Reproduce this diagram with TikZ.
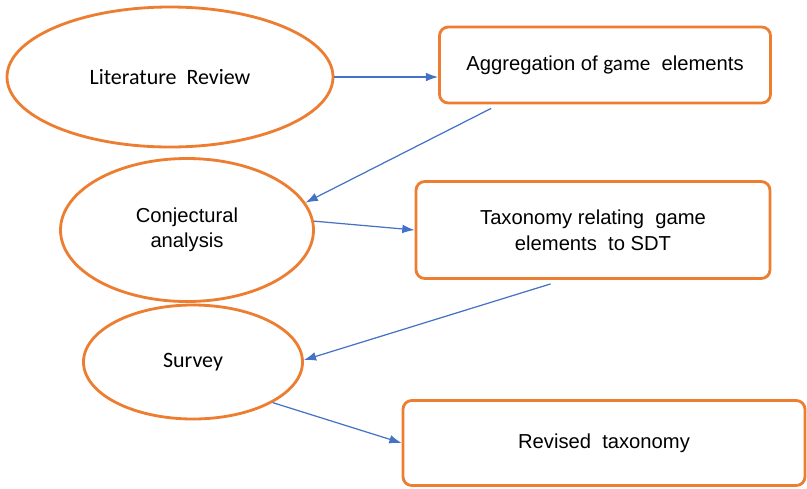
\documentclass[tikz,border=0pt]{standalone}
\usepackage{fontspec}
\setmainfont{Liberation Sans}
\newfontfamily\calibrifont{Carlito}
\usepackage{tikz}
\usetikzlibrary{shapes.geometric, arrows.meta, positioning, calc}
\definecolor{stageorange}{RGB}{237, 125, 49}
\definecolor{flowblue}{RGB}{68, 114, 196}

\begin{document}
\begin{tikzpicture}[
    x=0.02cm, y=-0.02cm,
    stage/.style={ellipse, draw=stageorange, line width=1.6pt, fill=white, align=center, font=\fontsize{11.5}{14.5}\selectfont},
    result/.style={rectangle, rounded corners=5pt, draw=stageorange, line width=1.6pt, fill=white, align=center, font=\fontsize{11.5}{15}\selectfont},
    edge/.style={draw=flowblue, line width=0.7pt, -{Latex[length=7pt, width=5pt]}}
]
\useasboundingbox (0,0) rectangle (807,488);
\node[stage, minimum width=326*0.02cm, minimum height=140*0.02cm] (lit) at (170,77) {\calibrifont\fontsize{12.5}{15}\selectfont Literature\ \ Review};
\node[stage, minimum width=253*0.02cm, minimum height=143*0.02cm] (conj) at (187,230) {Conjectural\\analysis};
\node[stage, minimum width=219*0.02cm, minimum height=114*0.02cm] (survey) at (193,362) {\calibrifont\fontsize{12.5}{15}\selectfont Survey};
\node[result, minimum width=331*0.02cm, minimum height=76*0.02cm] (agg) at (605,65) {Aggregation\ of {\calibrifont\fontsize{12}{15}\selectfont game}\ \ elements};
\node[result, minimum width=354*0.02cm, minimum height=97*0.02cm] (tax) at (593,230) {Taxonomy relating\ \ game\\elements\ \ to SDT};
\node[result, minimum width=402*0.02cm, minimum height=85*0.02cm] (rev) at (604,443) {Revised\ \ taxonomy};

\draw[edge] (lit.east) -- (lit.east -| agg.west);
\draw[edge] ($(agg.south west)+(53,4)$) -- (conj.13);
\draw[edge] (conj.4) -- (tax.west);
\draw[edge] ($(tax.south west)+(136,4)$) -- (survey.1);
\draw[edge] (survey.-27) -- (rev.west);
\end{tikzpicture}
\end{document}
